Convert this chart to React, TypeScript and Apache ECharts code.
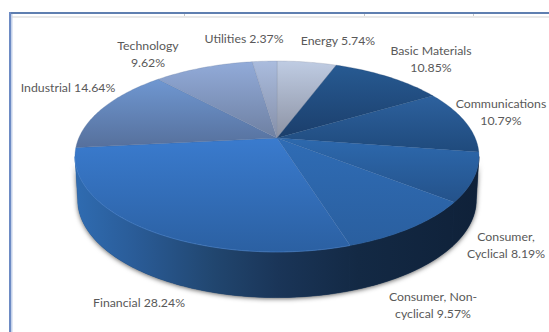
import React, { useEffect, useRef } from "react";
import * as echarts from "echarts";

// Sector weights in percent, clockwise from twelve o'clock.
const sectors = [
  "Energy",
  "Basic Materials",
  "Communications",
  "Consumer, Cyclical",
  "Consumer, Non-cyclical",
  "Financial",
  "Industrial",
  "Technology",
  "Utilities",
];
const weights = [5.74, 10.85, 10.79, 8.19, 9.57, 28.24, 14.64, 9.62, 2.37];
const labelLines = [
  ["Energy 5.74%"],
  ["Basic Materials", "10.85%"],
  ["Communications", "10.79%"],
  ["Consumer,", "Cyclical 8.19%"],
  ["Consumer, Non-", "cyclical 9.57%"],
  ["Financial 28.24%"],
  ["Industrial 14.64%"],
  ["Technology", "9.62%"],
  ["Utilities 2.37%"],
];

// Slice faces: colour at the top and bottom of each slice.
const faceColors = [
  ["#bfcce3", "#8c92a3"],
  ["#275a92", "#1b3e6b"],
  ["#2d619e", "#1f4a7c"],
  ["#2d69ae", "#24528a"],
  ["#2f6cb5", "#2a5f9f"],
  ["#3a7bce", "#2b60a2"],
  ["#6f97d1", "#56709c"],
  ["#92abd9", "#6e80a2"],
  ["#aabcde", "#858fa8"],
];
// Centre of each label's first line.
const labelAnchors = [
  [338, 40],
  [431, 50],
  [501, 103],
  [506, 236],
  [433, 296],
  [139, 302],
  [68, 87],
  [148, 45],
  [244, 38],
];
const LINE_HEIGHT = 17.5;
const LIT_RIM_SLICE = 5;

// Perspective projection of the unit disc onto the page.
const APEX_X = 277;
const TOP = { cy: 138, ax: 198.2, by: 91.9 };
const BOTTOM = { cy: 181, ax: 195.5, by: 94 };
const TILT = 0.1937;
const EDGE_START = 101.2;
const EDGE_END = 258.8;

type Disc = { cy: number; ax: number; by: number };

function project(deg: number, d: Disc) {
  const t = (deg * Math.PI) / 180;
  const u = Math.sin(t);
  const v = Math.cos(t);
  const w = 1 + TILT * v;
  return [APEX_X + (d.ax * u) / w, d.cy - (d.by * v) / w];
}

function arc(from: number, to: number, d: Disc) {
  const pts: number[][] = [];
  const n = Math.max(2, Math.ceil(Math.abs(to - from)));
  for (let i = 0; i <= n; i++) pts.push(project(from + ((to - from) * i) / n, d));
  return pts;
}

const total = weights.reduce((a, b) => a + b, 0);

const sideFill = () =>
  new echarts.graphic.LinearGradient(
    78,
    0,
    478,
    0,
    [
      { offset: 0, color: "#2f6bb0" },
      { offset: 0.14, color: "#2a5c98" },
      { offset: 0.34, color: "#21466f" },
      { offset: 0.5, color: "#1a3558" },
      { offset: 0.7, color: "#132944" },
      { offset: 1, color: "#0f2139" },
    ],
    true
  );

function renderSlice(params: any, api: any) {
  const i = params.dataIndex;
  let acc = 0;
  for (let k = 0; k < i; k++) acc += weights[k];
  const start = (acc / total) * 360;
  const end = ((acc + api.value(0)) / total) * 360;
  const children: any[] = [];

  if (i === 0) {
    // Soft shadow under the front edge of the drum.
    children.push({
      type: "polygon",
      silent: true,
      shape: {
        points: [...arc(EDGE_START, EDGE_END, TOP), ...arc(EDGE_END, EDGE_START, BOTTOM)],
      },
      style: {
        fill: "#1a3558",
        shadowBlur: 5,
        shadowColor: "rgba(0,0,0,0.65)",
        shadowOffsetY: 1,
      },
    });
  }

  const from = Math.max(start, EDGE_START);
  const to = Math.min(end, EDGE_END);
  if (to > from) {
    children.push({
      type: "polygon",
      silent: true,
      shape: { points: [...arc(from, to, TOP), ...arc(to, from, BOTTOM)] },
      style: { fill: sideFill(), stroke: sideFill(), lineWidth: 0.5 },
    });
  }

  const [c0, c1] = faceColors[i];
  const fill = new echarts.graphic.LinearGradient(0, 0, 0, 1, [
    { offset: 0, color: c0 },
    { offset: 1, color: c1 },
  ]);
  children.push({
    type: "polygon",
    silent: true,
    shape: { points: [[APEX_X, TOP.cy], ...arc(start, end, TOP)] },
    style: { fill, stroke: c1, lineWidth: 0.3 },
  });

  if (i === LIT_RIM_SLICE) {
    // Thin lit bevel along the rim of the largest slice.
    children.push({
      type: "polyline",
      silent: true,
      shape: { points: arc(from, to, TOP) },
      style: { fill: "none", stroke: "rgba(90,150,225,0.4)", lineWidth: 1 },
    });
  }

  const [ax, ay] = labelAnchors[i];
  labelLines[i].forEach((line, n) => {
    children.push({
      type: "text",
      silent: true,
      style: {
        text: line,
        x: ax,
        y: ay + n * LINE_HEIGHT,
        align: "center",
        verticalAlign: "middle",
        fill: "#595959",
        font: '12.3px Lato, "Noto Sans", sans-serif',
      },
    });
  });

  return { type: "group", children };
}

export default function App() {
  const ref = useRef<HTMLDivElement>(null);
  useEffect(() => {
    document.body.style.margin = "0";
    const chart = echarts.init(ref.current!, undefined, { renderer: "svg" });
    chart.setOption({
      animation: false,
      backgroundColor: "#ffffff",
      graphic: [
        // Worksheet edges around the chart area.
        { type: "rect", shape: { x: 12, y: 16, width: 537, height: 2 }, style: { fill: "#e9e9e9" } },
        { type: "rect", shape: { x: 9, y: 12, width: 540, height: 2 }, style: { fill: "#5f7fb0" } },
        { type: "rect", shape: { x: 9, y: 12, width: 2, height: 320 }, style: { fill: "#6d8bc4" } },
        { type: "rect", shape: { x: 11, y: 14, width: 1.5, height: 318 }, style: { fill: "#c5d2ea" } },
        { type: "rect", shape: { x: 184, y: 14, width: 1, height: 2 }, style: { fill: "#c8c8c8" } },
        { type: "rect", shape: { x: 364, y: 14, width: 1, height: 2 }, style: { fill: "#c8c8c8" } },
        { type: "rect", shape: { x: 473, y: 14, width: 1, height: 2 }, style: { fill: "#c8c8c8" } },
      ],
      series: [
        {
          type: "custom",
          coordinateSystem: "none",
          renderItem: renderSlice,
          data: weights.map((w, i) => ({ name: sectors[i], value: [w] })),
        },
      ],
    });
    return () => chart.dispose();
  }, []);
  return <div ref={ref} style={{ width: 549, height: 332 }} />;
}
